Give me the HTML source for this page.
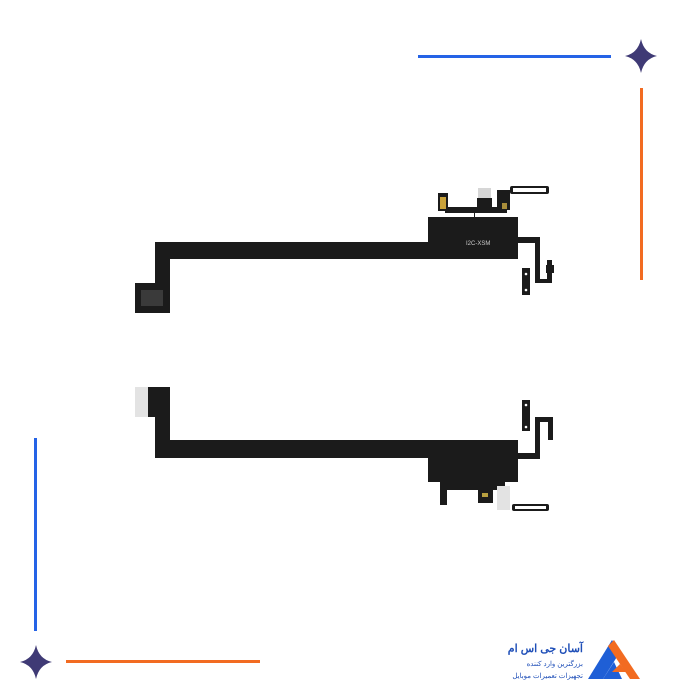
<!DOCTYPE html>
<html><head><meta charset="utf-8"><style>
html,body{margin:0;padding:0;background:#fff;width:700px;height:700px;overflow:hidden}
</style></head><body>
<svg width="700" height="700" viewBox="0 0 700 700" xmlns="http://www.w3.org/2000/svg">
<!-- decorations -->
<rect x="418" y="55" width="193" height="3" fill="#2563e6"/>
<rect x="640" y="88" width="3" height="192" fill="#f26b21"/>
<rect x="34" y="438" width="3" height="193" fill="#2563e6"/>
<rect x="66" y="660" width="194" height="3" fill="#f26b21"/>
<path d="M641 39 Q644 53 657 56 Q644 59 641 73 Q638 59 625 56 Q638 53 641 39Z" fill="#3f3a75"/>
<path d="M36 645 Q39 659 52 662 Q39 665 36 679 Q33 665 20 662 Q33 659 36 645Z" fill="#3f3a75"/>

<!-- top cable -->
<g fill="#1b1b1b">
<rect x="155" y="242" width="280" height="17"/>
<rect x="428" y="217" width="90" height="42"/>
<rect x="155" y="242" width="15" height="43"/>
<rect x="135" y="283" width="35" height="30"/>
<rect x="518" y="237" width="22" height="6"/>
<rect x="535" y="237" width="5" height="46"/>
<rect x="535" y="279" width="17" height="4"/>
<rect x="547" y="260" width="5" height="23"/>
<rect x="546" y="265" width="8" height="8"/>
<rect x="522" y="268" width="8" height="27"/>
<rect x="445" y="207" width="62" height="6"/>
<rect x="470" y="207" width="5" height="12"/>
<rect x="477" y="198" width="15" height="12"/>
<rect x="497" y="190" width="13" height="20"/>
<rect x="510" y="186" width="39" height="8" rx="2"/>
<rect x="438" y="193" width="10" height="18"/>
</g>
<rect x="458" y="213" width="16" height="4" fill="#fff"/>
<rect x="440" y="197" width="6" height="12" fill="#c9a23a"/>
<rect x="478" y="188" width="13" height="10" fill="#d6d6d6"/>
<rect x="513" y="188" width="33" height="4" fill="#fff"/>
<rect x="502" y="203" width="5" height="6" fill="#a88d3a"/>
<rect x="141" y="290" width="22" height="16" fill="#3a3a3a"/>
<circle cx="526" cy="274" r="1.3" fill="#fff"/><circle cx="526" cy="290" r="1.3" fill="#fff"/>
<text x="466" y="245" font-family="Liberation Sans, sans-serif" font-size="6" fill="#ccc">I2C-XSM</text>

<!-- bottom cable -->
<rect x="135" y="387" width="14" height="30" fill="#e3e3e3"/>
<g fill="#1b1b1b">
<rect x="148" y="387" width="22" height="30"/>
<rect x="155" y="415" width="15" height="43"/>
<rect x="155" y="440" width="280" height="18"/>
<rect x="428" y="440" width="90" height="42"/>
<rect x="518" y="453" width="22" height="6"/>
<rect x="535" y="417" width="5" height="42"/>
<rect x="535" y="417" width="17" height="5"/>
<rect x="548" y="417" width="5" height="23"/>
<rect x="522" y="400" width="8" height="31"/>
<rect x="440" y="482" width="65" height="8"/>
<rect x="440" y="485" width="7" height="20"/>
<rect x="478" y="488" width="15" height="15"/>
<rect x="512" y="504" width="37" height="7" rx="2"/>
</g>
<rect x="497" y="486" width="13" height="24" fill="#e3e3e3"/>
<rect x="515" y="506" width="31" height="3" fill="#fff"/>
<rect x="482" y="493" width="6" height="4" fill="#b8a040"/>
<circle cx="526" cy="405" r="1.3" fill="#fff"/><circle cx="526" cy="427" r="1.3" fill="#fff"/>

<!-- logo -->
<path d="M588 679 L612 640 L620 652 L603 679Z" fill="#1f5fd6"/>
<path d="M614 640 L640 679 L630 679 L608 646Z" fill="#f26b21"/>
<path d="M603 679 L614 662 L622 679Z" fill="#1f5fd6"/>
<path d="M612 672 L620 664 L626 672Z" fill="#f26b21"/>
<text x="583" y="652" text-anchor="end" font-family="Liberation Sans, Noto Sans CJK SC, sans-serif" font-size="11" font-weight="bold" fill="#1f4fb8">آسان جی اس ام</text>
<text x="583" y="666" text-anchor="end" font-family="Liberation Sans, Noto Sans CJK SC, sans-serif" font-size="7" fill="#1f4fb8">بزرگترین وارد کننده</text>
<text x="583" y="678" text-anchor="end" font-family="Liberation Sans, Noto Sans CJK SC, sans-serif" font-size="7" fill="#1f4fb8">تجهیزات تعمیرات موبایل</text>
</svg>
</body></html>
